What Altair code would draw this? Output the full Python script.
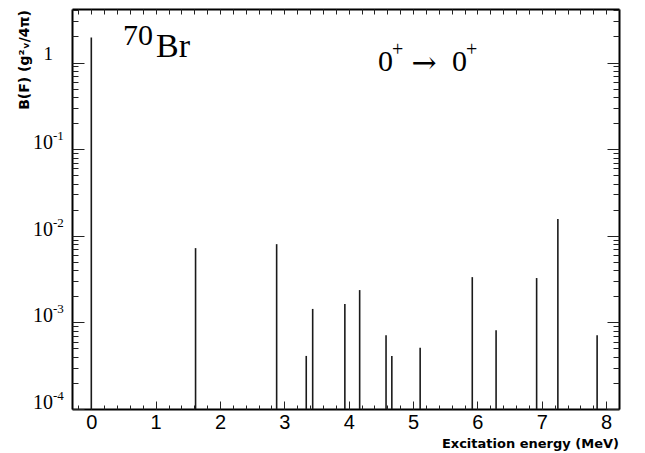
import altair as alt
import pandas as pd

# Data
energy = [0.0, 1.62, 2.88, 3.34, 3.44, 3.94, 4.17, 4.58, 4.67, 5.11, 5.92, 6.29, 6.92, 7.25, 7.86]
bf = [1.95, 7.2e-3, 8.0e-3, 4.1e-4, 1.43e-3, 1.63e-3, 2.36e-3, 7.1e-4, 4.1e-4, 5.1e-4,
      3.33e-3, 8.1e-4, 3.25e-3, 1.56e-2, 7.1e-4]

x_major = [0, 1, 2, 3, 4, 5, 6, 7, 8]
x_minor = [round(-0.2 + 0.2 * i, 1) for i in range(42)]
y_decades = [1e-4, 1e-3, 1e-2, 1e-1]
y_exps = ["-4", "-3", "-2", "-1"]
y_major = [1e-4, 1e-3, 1e-2, 1e-1, 1.0]
y_minor = [m * d for d in [1e-4, 1e-3, 1e-2, 1e-1] for m in range(2, 10)] + [2.0, 3.0, 4.0]

W, H = 547, 400
df = pd.DataFrame({"energy": energy, "bf": bf, "base": [1e-4] * len(energy)})
one = pd.DataFrame({"k": [0]})

xs = alt.Scale(domain=[-0.3, 8.2], nice=False, zero=False)
ys = alt.Scale(type="log", domain=[1e-4, 4.15], nice=False)

spikes = alt.Chart(df).mark_rule(color="#1a1a1a", strokeWidth=1.6).encode(
    x=alt.X("energy:Q", scale=xs, axis=alt.Axis(
        orient="bottom", values=x_major, ticks=False, domain=True, domainColor="black",
        domainWidth=2, labelFont="Liberation Sans", labelFontSize=20, labelColor="black",
        labelPadding=3, title=None, grid=False)),
    y=alt.Y("base:Q", scale=ys, axis=alt.Axis(
        orient="left", labels=False, ticks=False, domain=True, domainColor="black",
        domainWidth=2, title=None, grid=False)),
    y2="bf:Q",
)

def xticks(orient, vals, size):
    return alt.Chart(df).mark_point(opacity=0).encode(
        x=alt.X("energy:Q", scale=xs, axis=alt.Axis(
            orient=orient, offset=-H, values=vals, tickSize=size, tickColor="#222222",
            tickWidth=1, labels=False, domain=False, grid=False, title=None)))

def yticks(orient, vals, size):
    return alt.Chart(df).mark_point(opacity=0).encode(
        y=alt.Y("bf:Q", scale=ys, axis=alt.Axis(
            orient=orient, offset=-W, values=vals, tickSize=size, tickColor="#222222",
            tickWidth=1, labels=False, domain=False, grid=False, title=None)))

# frame on top and right
frame_top = alt.Chart(df).mark_point(opacity=0).encode(
    x=alt.X("energy:Q", scale=xs, axis=alt.Axis(
        orient="top", labels=False, ticks=False, domain=True, domainColor="black",
        domainWidth=2, title=None, grid=False)))
frame_right = alt.Chart(df).mark_point(opacity=0).encode(
    y=alt.Y("bf:Q", scale=ys, axis=alt.Axis(
        orient="right", labels=False, ticks=False, domain=True, domainColor="black",
        domainWidth=2, title=None, grid=False)))

lab_df = pd.DataFrame({"v": y_decades, "exp": y_exps})
ylab_base = alt.Chart(lab_df).mark_text(
    text="10", font="Liberation Serif", fontSize=20, align="right", baseline="alphabetic",
    color="black").encode(x=alt.value(-19), y=alt.Y("v:Q", scale=ys, axis=None))
ylab_exp = alt.Chart(lab_df).mark_text(
    font="Liberation Serif", fontSize=13, align="left", baseline="alphabetic", dy=-9,
    color="black").encode(x=alt.value(-19), y=alt.Y("v:Q", scale=ys, axis=None), text="exp:N")
ylab_one = alt.Chart(pd.DataFrame({"v": [1.0]})).mark_text(
    text="1", font="Liberation Serif", fontSize=19, align="right", baseline="alphabetic", dy=-3,
    color="black").encode(x=alt.value(-19), y=alt.Y("v:Q", scale=ys, axis=None))

def label(txt, x, y, size, font="Liberation Serif", weight="normal", align="left",
          baseline="alphabetic", angle=0):
    kw = dict(text=txt, font=font, fontSize=size, fontWeight=weight, align=align,
              baseline=baseline, color="black")
    if angle:
        kw["angle"] = angle
    return alt.Chart(one).mark_text(**kw).encode(x=alt.value(x), y=alt.value(y))

ox, oy = 72, 9
texts = [
    label("70", 123 - ox, 45 - oy, 30),
    label("Br", 156 - ox, 57 - oy, 34),
    label("0", 378 - ox, 71 - oy, 30),
    label("+", 392 - ox, 56 - oy, 20),
    label("\u2192", 424 - ox, 64 - oy, 30, font="DejaVu Serif", align="center",
          baseline="middle"),
    label("0", 452 - ox, 71 - oy, 30),
    label("+", 466 - ox, 56 - oy, 20),
    label("Excitation energy (MeV)", W, 444 - oy, 13, font="DejaVu Sans", weight="bold",
          align="right", baseline="middle"),
    label("B(F) (g\u00b2\u1d65/4\u03c0)", 25 - ox, 10 - oy, 14, font="DejaVu Sans",
          weight="bold", align="right", baseline="middle", angle=270),
]

chart = alt.layer(
    spikes,
    frame_top, frame_right,
    xticks("top", x_major, 8), xticks("top", x_minor, 4),
    xticks("bottom", x_minor, 5),
    yticks("right", y_major, 12), yticks("right", y_minor, 6),
    yticks("left", y_major, 12), yticks("left", y_minor, 6),
    ylab_base, ylab_exp, ylab_one,
    *texts,
).resolve_axis(x="independent", y="independent").properties(
    width=W, height=H,
    autosize=alt.AutoSizeParams(type="none"),
    padding={"left": ox, "top": oy, "right": 645 - ox - W, "bottom": 453 - oy - H},
).configure_view(stroke=None).configure(background="white")

chart.save("out.html", embed_options={"renderer": "svg", "actions": False})
